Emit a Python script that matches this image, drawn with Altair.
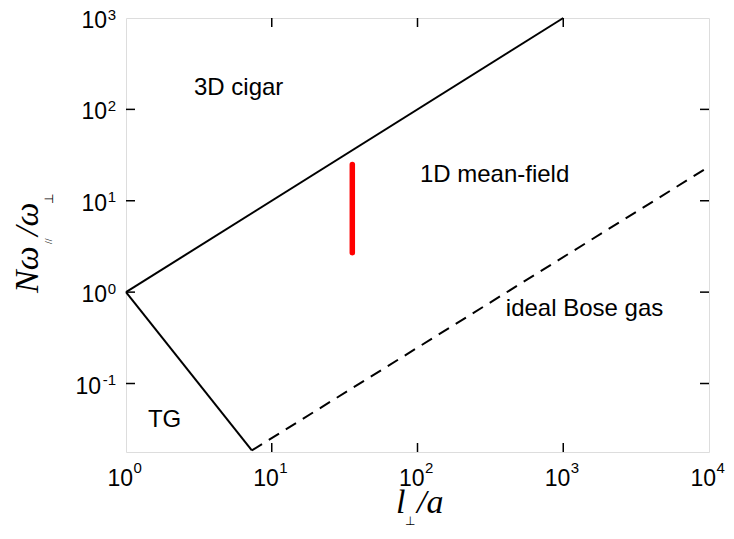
import altair as alt
import pandas as pd

W, H = 583, 434

# ---- data ----
upper_x = [1, 1000]
upper_y = [1, 1000]
tg_x = [1, 7.3]
tg_y = [1, 0.0185]
ideal_x = [7.3, 10000]
ideal_y = [0.0185, 23.6]
exp_x = [35.7, 35.7]
exp_y = [2.7, 25]

xtick_vals = [1, 10, 100, 1000, 10000]
xtick_exp = ["0", "1", "2", "3", "4"]
ytick_vals = [0.1, 1, 10, 100, 1000]
ytick_exp = ["-1", "0", "1", "2", "3"]
xinner_ticks = [10, 100, 1000]
yinner_ticks = [0.1, 1, 10, 100]

region_labels = ["3D cigar", "1D mean-field", "ideal Bose gas", "TG"]
region_x = [5.93, 338, 1400, 1.84]
region_y = [143.8, 16.1, 0.546, 0.0332]

XS = alt.Scale(type="log", domain=[1, 10000], nice=False)
YS = alt.Scale(type="log", domain=[0.0178, 1000], nice=False)


def X(f="x"):
    return alt.X(f"{f}:Q", scale=XS, axis=None)


def Y(f="y"):
    return alt.Y(f"{f}:Q", scale=YS, axis=None)


def line(xs, ys, **kw):
    return alt.Chart(pd.DataFrame({"x": xs, "y": ys})).mark_line(**kw).encode(x=X(), y=Y(), order="x:Q")


upper = line(upper_x, upper_y, color="black", strokeWidth=2)
tg = line(tg_x, tg_y, color="black", strokeWidth=2)
ideal = line(ideal_x, ideal_y, color="black", strokeWidth=2, strokeDash=[12, 8])
expt = alt.Chart(pd.DataFrame({"x": exp_x, "y": exp_y})).mark_line(
    color="#ff0000", strokeWidth=5.5, strokeCap="round").encode(x=X(), y=Y())

labels = alt.Chart(pd.DataFrame({"x": region_x, "y": region_y, "t": region_labels})).mark_text(
    font="Liberation Sans", fontSize=24, align="center", baseline="alphabetic", color="black"
).encode(x=X(), y=Y(), text="t:N")

# ---- ticks (inward, all four sides) ----
xt = pd.DataFrame({"x": xinner_ticks})
yt = pd.DataFrame({"y": yinner_ticks})
tb = alt.Chart(xt).mark_rule(color="black", strokeWidth=1.5).encode(
    x=X(), y=alt.value(H), y2=alt.value(H - 9))
tt = alt.Chart(xt).mark_rule(color="black", strokeWidth=1.5).encode(
    x=X(), y=alt.value(0), y2=alt.value(9))
tl = alt.Chart(yt).mark_rule(color="black", strokeWidth=1.5).encode(
    y=Y(), x=alt.value(0), x2=alt.value(9))
tr = alt.Chart(yt).mark_rule(color="black", strokeWidth=1.5).encode(
    y=Y(), x=alt.value(W), x2=alt.value(W - 9))

# ---- tick labels ----
xl = pd.DataFrame({"x": xtick_vals, "e": xtick_exp})
xbase = alt.Chart(xl).mark_text(font="Liberation Sans", fontSize=23, align="right",
                                baseline="alphabetic", dx=7, text="10", color="black").encode(
    x=X(), y=alt.value(H + 34))
xexp = alt.Chart(xl).mark_text(font="Liberation Sans", fontSize=15, align="left",
                               baseline="alphabetic", dx=7.5, color="black").encode(
    x=X(), y=alt.value(H + 21.3), text="e:N")

yl = pd.DataFrame({"y": ytick_vals, "e": ytick_exp, "en": [int(v) for v in ytick_exp]})
ybase_pos = alt.Chart(yl).transform_filter("datum.en >= 0").mark_text(
    font="Liberation Sans", fontSize=23, align="right", baseline="alphabetic", dy=10,
    text="10", color="black").encode(y=Y(), x=alt.value(-19))
ybase_neg = alt.Chart(yl).transform_filter("datum.en < 0").mark_text(
    font="Liberation Sans", fontSize=23, align="right", baseline="alphabetic", dy=10,
    text="10", color="black").encode(y=Y(), x=alt.value(-25))
yexp = alt.Chart(yl).mark_text(font="Liberation Sans", fontSize=15, align="right",
                               baseline="alphabetic", dy=1.5, color="black").encode(
    y=Y(), x=alt.value(-10), text="e:N")

# ---- axis titles ----
one = pd.DataFrame({"a": [0]})


def ttext(txt, x, y, size=34, font="Liberation Serif", italic=True, angle=0):
    kw = dict(text=txt, font=font, fontSize=size, align="left", baseline="alphabetic", color="black")
    if italic:
        kw["fontStyle"] = "italic"
    if angle:
        kw["angle"] = angle
    return alt.Chart(one).mark_text(**kw).encode(x=alt.value(x), y=alt.value(y))


ytitle = [
    ttext("Nω", -88, 275, angle=270),
    ttext("//", -74, 226, size=10, italic=False, angle=270),
    ttext("/ω", -88, 218, angle=270),
    ttext("⊥", -73, 186, size=12, font="DejaVu Sans", italic=False, angle=270),
]
xtitle = [
    ttext("l", 270, 495),
    ttext("⊥", 279, 507, size=12, font="DejaVu Sans", italic=False),
    ttext("/a", 291, 495),
]

chart = alt.layer(
    upper, tg, ideal, expt, labels,
    tb, tt, tl, tr,
    xbase, xexp, ybase_pos, ybase_neg, yexp,
    *ytitle, *xtitle,
).properties(
    width=W, height=H,
    padding={"left": 118, "top": 10, "right": 17, "bottom": 78},
    autosize=alt.AutoSizeParams(type="none"),
).configure_view(stroke="black", strokeWidth=2).configure(background="white")

chart.save("out.html", embed_options={"renderer": "svg", "actions": False})
